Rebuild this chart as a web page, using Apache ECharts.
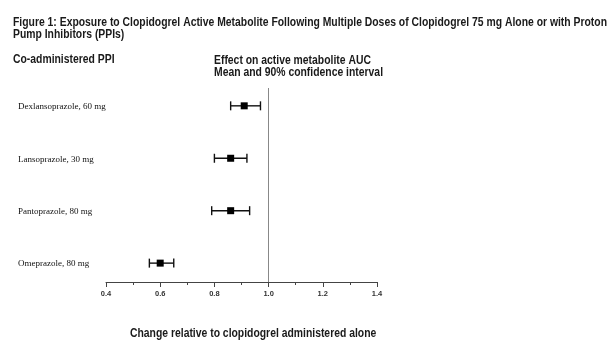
<!DOCTYPE html>
<html>
<head>
<meta charset="utf-8">
<script src="https://cdn.jsdelivr.net/npm/echarts@6/dist/echarts.min.js"></script>
<style>
  html, body { margin: 0; padding: 0; background: #fff; }
  #charts { width: 611px; height: 354px; }
</style>
</head>
<body>
<div id="charts"></div>
<script>
// 数据 (top to bottom)
var drugs = ['Dexlansoprazole, 60 mg', 'Lansoprazole, 30 mg', 'Pantoprazole, 80 mg', 'Omeprazole, 80 mg'];
var means = [0.91, 0.86, 0.86, 0.60];
var lows = [0.86, 0.80, 0.79, 0.56];
var highs = [0.97, 0.92, 0.93, 0.65];

var titleLines = [
    'Figure 1: Exposure to Clopidogrel Active Metabolite Following Multiple Doses of Clopidogrel 75 mg Alone or with Proton',
    'Pump Inhibitors (PPIs)'
];
var leftHead = 'Co-administered PPI';
var rightHead = ['Effect on active metabolite AUC', 'Mean and 90% confidence interval'];
var xName = 'Change relative to clopidogrel administered alone';

var headFont = "bold 12px 'Liberation Sans', Arial, sans-serif";
var squeeze = 0.865; // narrow bold look

// row position: first drug on top
var rows = drugs.map(function (d, i) {
    return [means[i], drugs.length - i, lows[i], highs[i], d];
});

function headText(txt, x, y) {
    return {
        type: 'text', x: x, y: y, scaleX: squeeze, silent: true,
        style: { text: txt, font: headFont, fill: '#1a1a1a', verticalAlign: 'middle', align: 'left' }
    };
}

function ec1() {
    var myChart = echarts.init(document.getElementById('charts'));
    var option = {
        animation: false,
        graphic: [
            headText(titleLines[0], 13, 23),
            headText(titleLines[1], 13, 35),
            headText(leftHead, 13, 60),
            headText(rightHead[0], 214, 61),
            headText(rightHead[1], 214, 73),
            headText(xName, 130, 334)
        ],
        grid: { left: 106, right: 611 - 377, top: 88, bottom: 354 - 282 },
        xAxis: {
            type: 'value',
            min: 0.4, max: 1.4, interval: 0.2,
            axisLine: { show: true, lineStyle: { color: '#444', width: 1 } },
            axisTick: { show: true, length: 5, lineStyle: { color: '#444' } },
            minorTick: { show: true, splitNumber: 2, length: 3, lineStyle: { color: '#444' } },
            splitLine: { show: false },
            axisLabel: {
                margin: 8, fontSize: 7.5, fontWeight: 'bold', color: '#333',
                fontFamily: "'Liberation Sans', sans-serif",
                formatter: function (v) { return v.toFixed(1); }
            }
        },
        yAxis: {
            type: 'value', min: 0.64, max: 4.34,
            show: false
        },
        series: [{
            type: 'custom',
            data: rows,
            encode: { x: 0, y: 1 },
            renderItem: function (params, api) {
                var y = api.value(1);
                var p = api.coord([api.value(0), y]);
                var lo = api.coord([api.value(2), y]);
                var hi = api.coord([api.value(3), y]);
                var cap = 4.5, s = 3.5;
                var st = { stroke: '#111', lineWidth: 1.4 };
                return {
                    type: 'group',
                    children: [
                        { type: 'line', shape: { x1: lo[0], y1: p[1], x2: hi[0], y2: p[1] }, style: st },
                        { type: 'line', shape: { x1: lo[0], y1: p[1] - cap, x2: lo[0], y2: p[1] + cap }, style: st },
                        { type: 'line', shape: { x1: hi[0], y1: p[1] - cap, x2: hi[0], y2: p[1] + cap }, style: st },
                        { type: 'rect', shape: { x: p[0] - s, y: p[1] - s, width: 2 * s, height: 2 * s }, style: { fill: '#000' } },
                        {
                            type: 'text',
                            style: {
                                text: api.value(4), x: 18, y: p[1] + 1,
                                verticalAlign: 'middle', align: 'left',
                                font: "9px 'Liberation Serif', 'DejaVu Serif', serif",
                                fill: '#111'
                            }
                        }
                    ]
                };
            },
            markLine: {
                silent: true,
                symbol: 'none',
                label: { show: false },
                lineStyle: { color: '#888', type: 'solid', width: 1 },
                data: [{ xAxis: 1.0 }]
            }
        }]
    };
    myChart.setOption(option);
}
ec1();
</script>
</body>
</html>
